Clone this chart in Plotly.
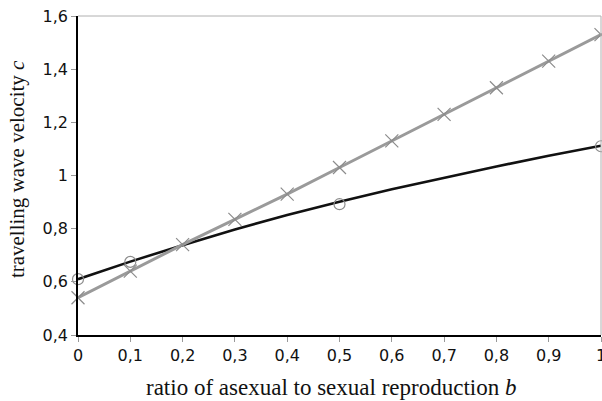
import plotly.graph_objects as go

b_vals = [0, 0.1, 0.2, 0.3, 0.4, 0.5, 0.6, 0.7, 0.8, 0.9, 1.0]
sexual_curve = [0.61, 0.676, 0.738, 0.797, 0.851, 0.901, 0.948, 0.992, 1.034, 1.074, 1.112]
circle_b = [0, 0.1, 0.5, 1.0]
circle_c = [0.61, 0.675, 0.892, 1.11]
gray_line = [0.54, 0.64, 0.74, 0.835, 0.93, 1.03, 1.13, 1.23, 1.33, 1.43, 1.53]

x_ticks = [0, 0.1, 0.2, 0.3, 0.4, 0.5, 0.6, 0.7, 0.8, 0.9, 1.0]
x_ticklabels = ["0", "0,1", "0,2", "0,3", "0,4", "0,5", "0,6", "0,7", "0,8", "0,9", "1"]
y_ticks = [0.4, 0.6, 0.8, 1.0, 1.2, 1.4, 1.6]
y_ticklabels = ["0,4", "0,6", "0,8", "1", "1,2", "1,4", "1,6"]

x_title = "ratio of asexual to sexual reproduction <i>b</i>"
y_title = "travelling wave velocity <i>c</i>"

fig = go.Figure()
fig.add_trace(go.Scatter(x=b_vals, y=sexual_curve, mode="lines",
                         line=dict(color="#111111", width=2.6), showlegend=False))
fig.add_trace(go.Scatter(x=circle_b, y=circle_c, mode="markers", cliponaxis=False,
                         marker=dict(symbol="circle-open", size=11, color="#8c8c8c", line=dict(width=1.2)),
                         showlegend=False))
fig.add_trace(go.Scatter(x=b_vals, y=gray_line, mode="lines+markers", cliponaxis=False,
                         line=dict(color="#9a9a9a", width=3),
                         marker=dict(symbol="x-thin-open", size=13, color="#8c8c8c", line=dict(width=1.2, color="#8c8c8c")),
                         showlegend=False))

tick_font = dict(family="DejaVu Sans", size=16, color="#111111")

fig.update_layout(
    width=602, height=401,
    margin=dict(l=78, r=1, t=16, b=66),
    plot_bgcolor="white", paper_bgcolor="white",
    xaxis=dict(range=[0, 1], tickvals=x_ticks, ticktext=x_ticklabels, automargin=False,
               showgrid=False, zeroline=False, showline=True, linecolor="black", linewidth=1.5,
               ticks="outside", ticklen=5, tickcolor="#999999", ticklabeloverflow="allow",
               tickfont=tick_font),
    yaxis=dict(range=[0.4, 1.6], tickvals=y_ticks, ticktext=y_ticklabels, automargin=False,
               showgrid=False, zeroline=False, showline=True, linecolor="black", linewidth=1.5,
               ticks="outside", ticklen=5, tickcolor="#999999",
               tickfont=tick_font),
    annotations=[
        dict(text=x_title, xref="paper", yref="paper", x=0.484, y=0, yshift=-52,
             xanchor="center", yanchor="middle", showarrow=False,
             font=dict(family="Liberation Serif, Times New Roman", size=23, color="#111111")),
        dict(text=y_title, xref="paper", yref="paper", x=0, y=0.52, xshift=-61,
             xanchor="center", yanchor="middle", showarrow=False, textangle=-90,
             font=dict(family="Liberation Serif, Times New Roman", size=21, color="#111111")),
    ],
    shapes=[
        dict(type="line", xref="paper", yref="paper", x0=0, x1=1, y0=1, y1=1,
             line=dict(color="#b0b0b0", width=1)),
        dict(type="line", xref="paper", yref="paper", x0=1, x1=1, y0=0, y1=1,
             line=dict(color="#b0b0b0", width=1)),
    ],
)
fig.write_html("out.html")
